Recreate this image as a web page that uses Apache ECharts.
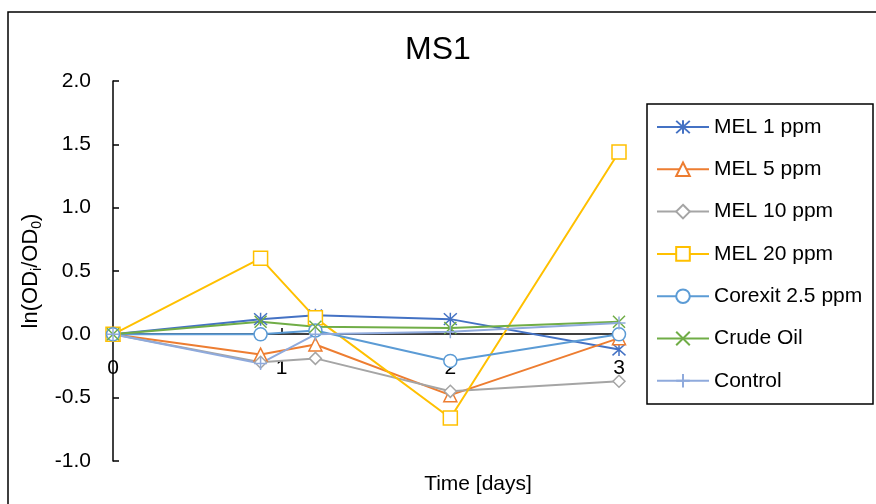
<!DOCTYPE html>
<html>
<head>
<meta charset="utf-8">
<script src="https://cdn.jsdelivr.net/npm/echarts@6/dist/echarts.min.js"></script>
<style>html,body{margin:0;padding:0;background:#fff}#c{width:876px;height:504px}</style>
</head>
<body>
<div id="c"></div>
<script>
const timeDays = [0, 0.875, 1.2, 2, 3];
const mel1 = [0, 0.12, 0.15, 0.12, -0.12];
const mel5 = [0, -0.16, -0.08, -0.48, -0.03];
const mel10 = [0, -0.22, -0.19, -0.45, -0.37];
const mel20 = [0, 0.60, 0.13, -0.66, 1.44];
const corexit = [0, 0.0, 0.03, -0.21, 0.0];
const crudeOil = [0, 0.10, 0.06, 0.05, 0.10];
const control = [0, -0.23, 0.0, 0.02, 0.09];
const seriesNames = ['MEL 1 ppm', 'MEL 5 ppm', 'MEL 10 ppm', 'MEL 20 ppm', 'Corexit 2.5 ppm', 'Crude Oil', 'Control'];
const xTicks = [0, 1, 2, 3];
const yTicks = [-1.0, -0.5, 0.0, 0.5, 1.0, 1.5, 2.0];

const FONT = 'Liberation Sans';
const colors = ['#4472C4', '#ED7D31', '#A5A5A5', '#FFC000', '#5B9BD5', '#70AD47', '#8FAADC'];
const symbols = [
  'path://M5,0L5,10M0.5,0.5L9.5,9.5M9.5,0.5L0.5,9.5',
  'triangle',
  'diamond',
  'rect',
  'circle',
  'path://M0,0L10,10M10,0L0,10',
  'path://M5,0L5,10M0,5L10,5'
];
const sizes = [13, 13, 12, 14, 13, 12, 13];
const values = [mel1, mel5, mel10, mel20, corexit, crudeOil, control];

const series = seriesNames.map((name, i) => ({
  name: name,
  type: 'line',
  data: timeDays.map((t, k) => [t, values[i][k]]),
  symbol: symbols[i],
  symbolSize: sizes[i],
  showAllSymbol: true,
  lineStyle: { color: colors[i], width: 2 },
  itemStyle: { color: '#ffffff', borderColor: colors[i], borderWidth: 1.5 },
  emphasis: { disabled: true },
  animation: false
}));

const chart = echarts.init(document.getElementById('c'));
chart.setOption({
  animation: false,
  title: {
    text: 'MS1', left: 'center', top: 29,
    textStyle: { fontFamily: FONT, fontSize: 32, fontWeight: 'normal', color: '#000' }
  },
  grid: { left: 113, right: 257, top: 81, bottom: 43 },
  xAxis: {
    type: 'value', min: 0, max: 3, interval: 1,
    position: 'bottom',
    offset: -127,
    axisLine: { show: true, onZero: false, lineStyle: { color: '#000', width: 1.5 } },
    axisTick: { show: true, inside: true, length: 6, lineStyle: { color: '#000', width: 1.5 } },
    axisLabel: {
      margin: 24, color: '#000', fontFamily: FONT, fontSize: 21,
      formatter: v => (xTicks.indexOf(v) >= 0 ? String(v) : '')
    },
    splitLine: { show: false }
  },
  yAxis: {
    type: 'value', min: -1, max: 2, interval: 0.5,
    axisLine: { show: true, onZero: false, lineStyle: { color: '#000', width: 1.5 } },
    axisTick: { show: true, inside: true, length: 6, lineStyle: { color: '#000', width: 1.5 } },
    axisLabel: {
      margin: 22, color: '#000', fontFamily: FONT, fontSize: 21,
      formatter: v => yTicks.find(t => Math.abs(t - v) < 1e-9).toFixed(1)
    },
    splitLine: { show: false },
    name: '{a|ln(OD}{s|i}{a|/OD}{s|0}{a|)}',
    nameLocation: 'middle',
    nameGap: 61,
    nameRotate: 90,
    nameTextStyle: {
      fontFamily: FONT, color: '#000',
      rich: {
        a: { fontFamily: FONT, fontSize: 22, color: '#000', lineHeight: 26 },
        s: { fontFamily: FONT, fontSize: 14, color: '#000', lineHeight: 26, verticalAlign: 'bottom', padding: [8, 0, 0, 0] }
      }
    }
  },
  legend: {
    orient: 'vertical',
    left: 656, top: 115,
    padding: 0,
    itemWidth: 52, itemHeight: 17,
    itemGap: 18.3,
    data: seriesNames,
    textStyle: { fontFamily: FONT, fontSize: 21, color: '#000', lineHeight: 24 }
  },
  graphic: [
    { type: 'rect', silent: true, z: -10,
      shape: { x: 8, y: 12, width: 900, height: 600 },
      style: { fill: 'none', stroke: '#000', lineWidth: 1.5 } },
    { type: 'rect', silent: true,
      shape: { x: 647, y: 104, width: 226, height: 300 },
      style: { fill: 'none', stroke: '#000', lineWidth: 1.5 } },
    { type: 'text', silent: true,
      style: { text: 'Time [days]', x: 478, y: 484, textAlign: 'center', textVerticalAlign: 'middle', verticalAlign: 'middle',
               font: '21px "Liberation Sans"', fill: '#000' } }
  ],
  series: series
});
</script>
</body>
</html>
